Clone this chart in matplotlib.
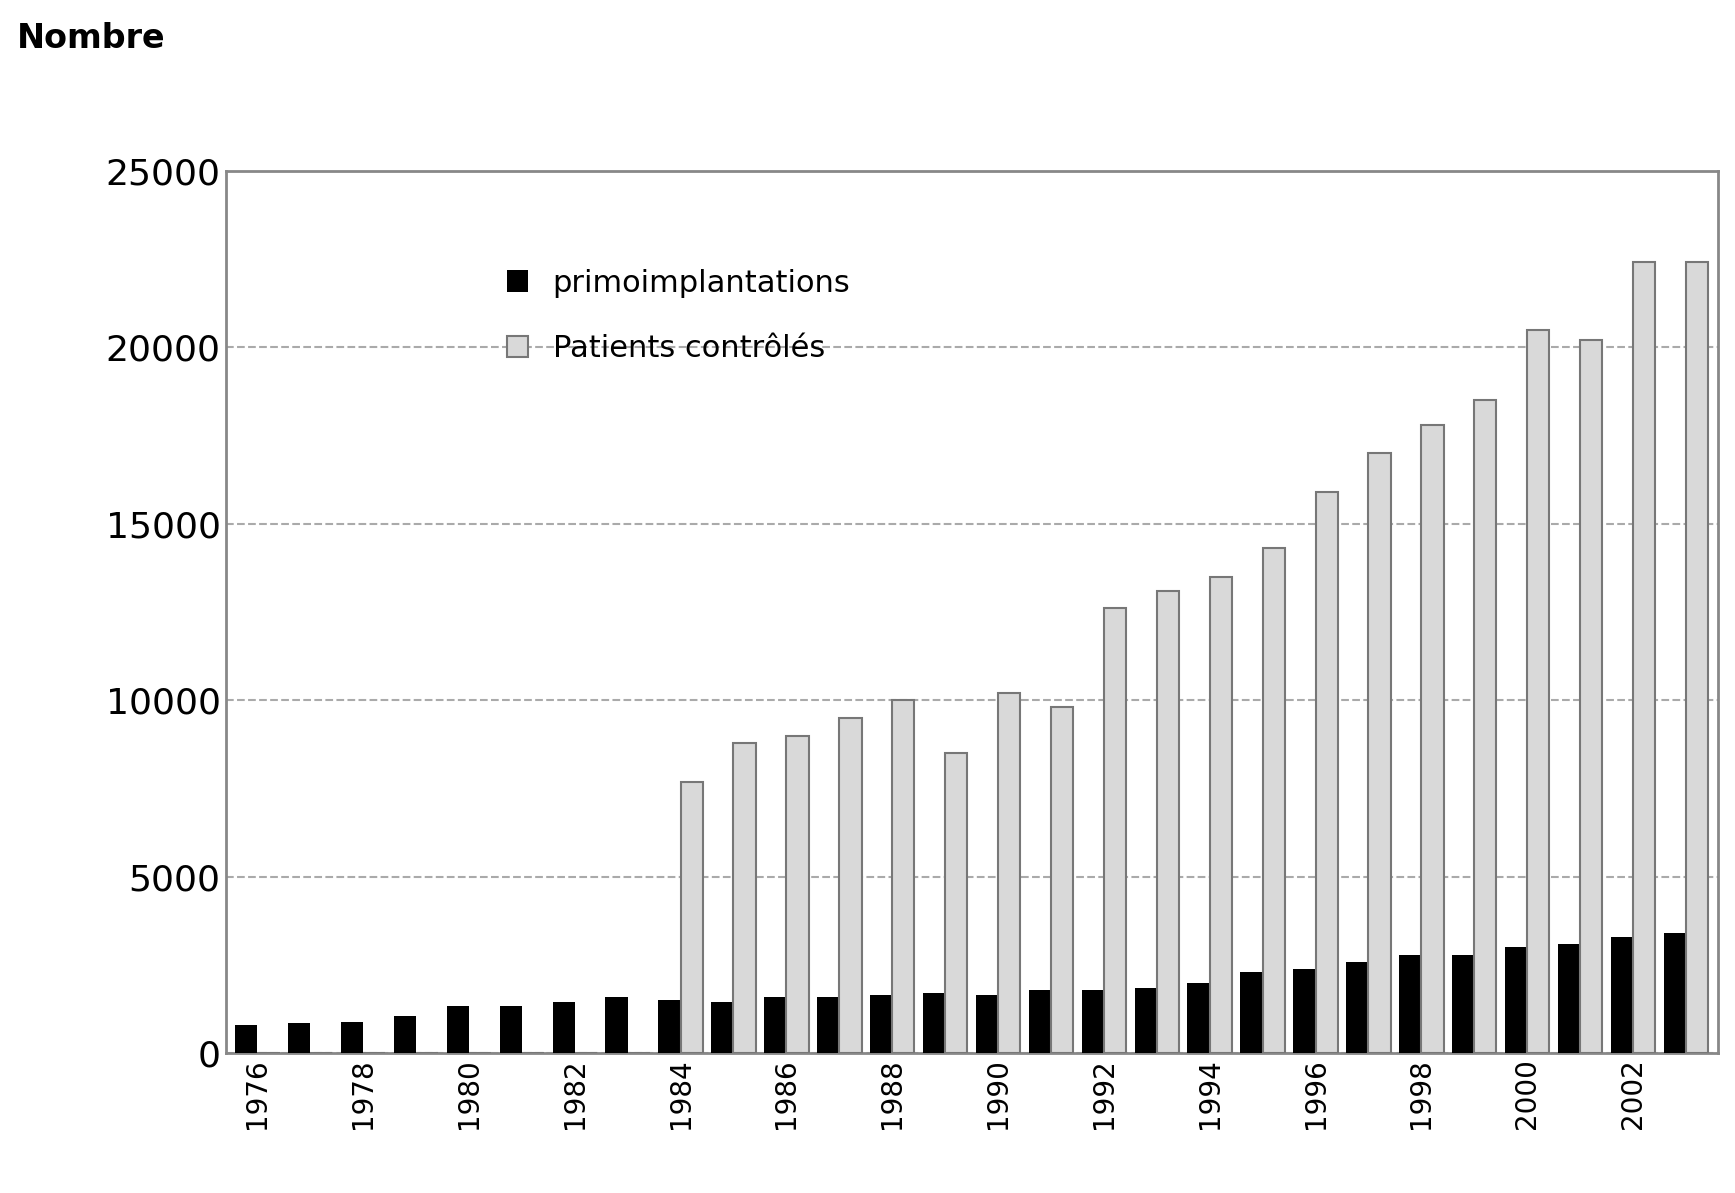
import matplotlib
matplotlib.use("Agg")
import matplotlib.pyplot as plt
import numpy as np

years = list(range(1976, 2004))
primo = [800, 850, 900, 1050, 1350, 1350, 1450, 1600, 1500, 1450, 1600, 1600, 1650, 1700,
         1650, 1800, 1800, 1850, 2000, 2300, 2400, 2600, 2800, 2800, 3000, 3100, 3300, 3400]
controles = [0]*8 + [7700, 8800, 9000, 9500, 10000, 8500, 10200, 9800, 12600, 13100, 13500,
                     14300, 15900, 17000, 17800, 18500, 20500, 20200, 22400, 22400]
tick_years = list(range(1976, 2004, 2))

fig = plt.figure(figsize=(17.35, 11.93), dpi=100)
ax = fig.add_axes([0.13, 0.117, 0.86, 0.74])
x = np.arange(len(years))
w = 0.42
ax.bar(x - w/2, primo, w, color='black', label='primoimplantations', zorder=3)
ax.bar(x + w/2, controles, w, color='#d9d9d9', edgecolor='#777777', linewidth=1.5,
       label='Patients contrôlés', zorder=3)
ax.set_ylim(0, 25000)
ax.set_xlim(-0.6, len(years) - 0.4)
ax.set_yticks(range(0, 25001, 5000))
ax.set_xticks([years.index(y) for y in tick_years])
ax.set_xticklabels([str(y) for y in tick_years], rotation=90, fontsize=20)
ax.tick_params(axis='y', labelsize=26, length=0)
ax.tick_params(axis='x', length=0)
ax.yaxis.grid(True, linestyle='--', color='#aaaaaa', linewidth=1.5, zorder=0)
for s in ax.spines.values():
    s.set_color('#888888'); s.set_linewidth(2)
ax.legend(loc='upper left', bbox_to_anchor=(0.17, 0.92), frameon=False, fontsize=22,
          handlelength=0.7, labelspacing=1.2)
fig.text(0.01, 0.96, 'Nombre', fontsize=24, fontweight='bold')
fig.savefig('out.png')
